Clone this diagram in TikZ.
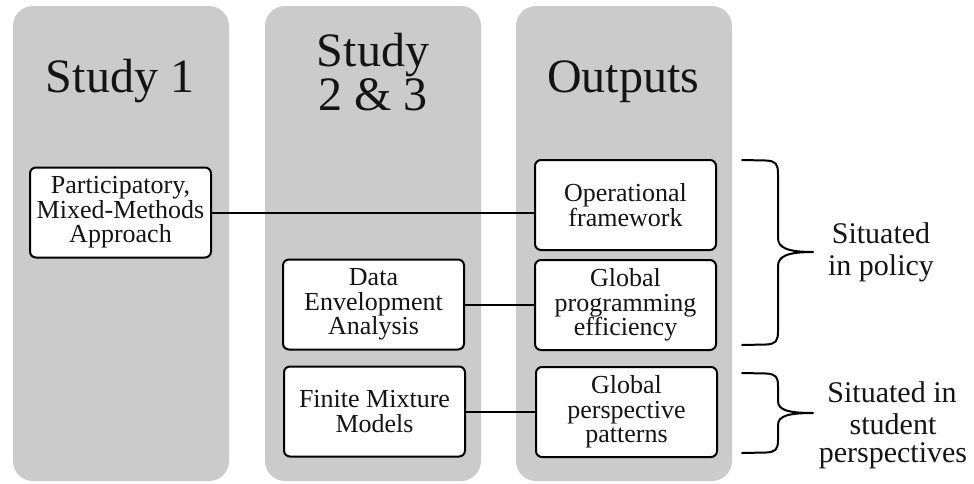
\documentclass[tikz,border=0pt]{standalone}
\usepackage{fontspec}
\setmainfont{Liberation Serif}
\definecolor{colgray}{RGB}{203,203,203}
\definecolor{ink}{RGB}{20,20,20}
\begin{document}
\begin{tikzpicture}[x=1pt,y=-1pt,
  colbg/.style={fill=colgray, rounded corners=20pt},
  headtext/.style={text=ink, align=center, inner sep=0pt, font=\fontsize{48}{44}\selectfont},
  boxnode/.style={draw=black, line width=2pt, fill=white, rounded corners=6pt,
    minimum width=181pt, minimum height=90pt, inner sep=0pt, align=center, text=ink,
    font=\fontsize{26}{24.5}\selectfont},
  link/.style={draw=black, line width=2pt},
  bracepath/.style={draw=black, line width=2pt, line cap=round, line join=round},
  sidetext/.style={text=ink, align=center, inner sep=0pt, font=\fontsize{30}{31}\selectfont}
]
\useasboundingbox (0,0) rectangle (974,483);
% columns
\fill[colbg] (13,6) rectangle (229,481);
\fill[colbg] (265,6) rectangle (481,481);
\fill[colbg] (516,6) rectangle (732,481);
% headings
\node[headtext, anchor=base] (h1) at (120,92) {Study 1};
\node[headtext, anchor=north] (h2) at (373,33) {Study\\2 \& 3};
\node[headtext, anchor=base] (h3) at (623,92) {Outputs};
% boxes
\node[boxnode] (P) at (120.5,212.5) {Participatory,\\Mixed-Methods\\Approach};
\node[boxnode] (OF) at (625.5,205) {Operational\\framework};
\node[boxnode] (GPE) at (625.5,305) {Global\\programming\\efficiency};
\node[boxnode] (GPP) at (626.5,412) {Global\\perspective\\patterns};
\node[boxnode] (DEA) at (373.5,304.5) {Data\\Envelopment\\Analysis};
\node[boxnode] (FMM) at (374.5,411.5) {Finite Mixture\\Models};
% connectors
\draw[link] (P.east) -- (P.east -| OF.west);
\draw[link] (DEA.east) -- (DEA.east -| GPE.west);
\draw[link] (FMM.east) -- (FMM.east -| GPP.west);
% braces
\coordinate (b1t) at (742,160);
\coordinate (b1b) at (742,345);
\coordinate (b1m) at (813,252);
\draw[bracepath] (b1t) -- (766,160.5) .. controls (776,161) and (778,164) .. (778,174)
  -- (778,238) .. controls (778,248) and (788,252) .. (b1m)
  .. controls (788,252) and (778,256) .. (778,266)
  -- (778,331) .. controls (778,341) and (776,344) .. (766,344.5) -- (b1b);
\coordinate (b2t) at (742,373);
\coordinate (b2b) at (742,453);
\coordinate (b2m) at (813,413);
\draw[bracepath] (b2t) -- (766,373.5) .. controls (776,374) and (778,377) .. (778,386)
  -- (778,401) .. controls (778,410) and (788,413) .. (b2m)
  .. controls (788,413) and (778,416) .. (778,425)
  -- (778,440) .. controls (778,449) and (776,452) .. (766,452.5) -- (b2b);
% side labels
\node[sidetext, anchor=base] (s1) at (881,243) {Situated};
\node[sidetext, anchor=base] (s1b) at (881,275) {in policy};
\node[sidetext, anchor=base] (s2) at (892,402) {Situated in};
\node[sidetext, anchor=base] (s2b) at (893,434) {student};
\node[sidetext, anchor=base] (s2c) at (893,462) {perspectives};
\end{tikzpicture}
\end{document}
